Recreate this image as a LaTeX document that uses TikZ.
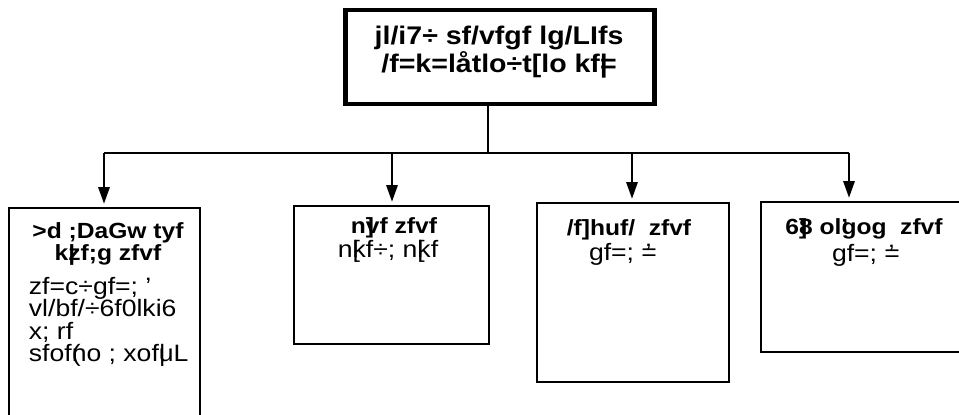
\documentclass[tikz,border=0pt]{standalone}
\usepackage{fontspec}
\setmainfont{Liberation Sans}[FakeStretch=1.12]
\usetikzlibrary{arrows.meta}
\tikzset{every path/.style={black, line width=1.1pt},
  box/.style={draw, line width=0.9pt, inner sep=0pt},
  head/.style={font=\bfseries\fontsize{12.5}{13}\selectfont, inner sep=0pt, align=center},
  body/.style={font=\fontsize{13.5}{12.8}\selectfont, inner sep=0pt, align=left},
  arr/.style={-{Triangle[length=9.5pt,width=6.5pt]}, shorten >=2pt}}
\newcommand\tick{\rlap{\hspace{0.18em}'}=}

\begin{document}
\begin{tikzpicture}[x=0.02cm,y=-0.02cm]
  \useasboundingbox (0,0) rectangle (959,414);
  % top box
  \node[box, line width=2.8pt, minimum width=6.18cm, minimum height=1.88cm] (top) at (500,57) {};
  \node[head, font=\bfseries\fontsize{14.5}{13.6}\selectfont] (topt) at (499,52) {jl/i7÷ sf/vfgf lg/LIfs\\/f=k=låtlo÷t[lo kf\rlap{|}=};
  % branch line
  \coordinate (stem) at (488,153);
  \coordinate (b1) at (104,153);
  \coordinate (b2) at (392,153);
  \coordinate (b3) at (632,153);
  \coordinate (b4) at (849,153);
  \draw (top.south -| stem) -- (stem);
  \draw (b1) -- (b4);
  % lower boxes
  \node[box, minimum width=3.82cm, minimum height=4.24cm] (lab) at (104.5,314) {};
  \node[box, minimum width=3.9cm,  minimum height=2.76cm] (acc) at (391.5,275) {};
  \node[box, minimum width=3.84cm, minimum height=3.58cm] (emp) at (633,292.5) {};
  \node[box, minimum width=4.08cm, minimum height=3cm]    (tu)  at (863,277) {};
  \draw[arr] (b1) -- (b1 |- lab.north);
  \draw[arr] (b2) -- (b2 |- acc.north);
  \draw[arr] (b3) -- (b3 |- emp.north);
  \draw[arr] (b4) -- (b4 |- tu.north);
  % texts
  \node[head] (labt) at (108,244) {>d ;DaGw tyf\\k\rlap{|}zf;g zfvf};
  \node[body, anchor=north west] (labb) at (28,276) {zf=c÷gf=; '\\vl/bf/÷6f0lki6\\x; rf\\sfof\rlap{(}no ; xof\rlap{|}uL};
  \node[head] (acct) at (394,228) {n\rlap{]}vf zfvf};
  \node[body] (accb) at (388,251) {n\rlap{[}kf÷; n\rlap{[}kf};
  \node[head] (empt) at (629,230) {/f]huf/\ \ zfvf};
  \node[body] (empb) at (623,254) {gf=; \tick};
  \node[head] (tut) at (864,229) {6\rlap{]}8 ol\rlap{'}gog\ \ zfvf};
  \node[body] (tub) at (866,255) {gf=; \tick};
\end{tikzpicture}
\end{document}
